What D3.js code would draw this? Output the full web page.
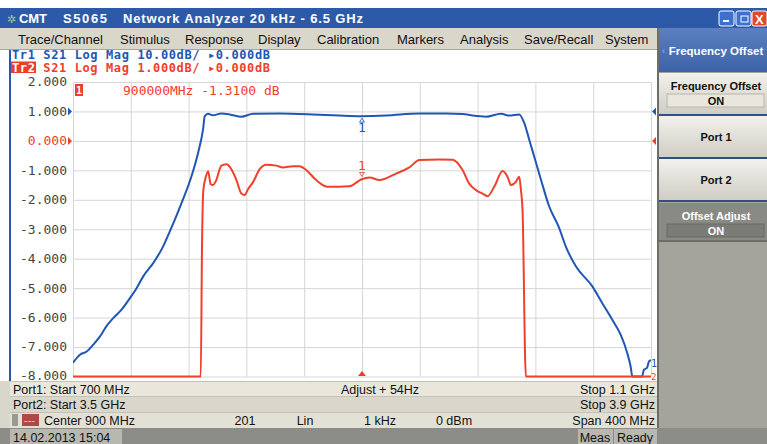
<!DOCTYPE html>
<html>
<head>
<meta charset="utf-8">
<script src="https://cdn.jsdelivr.net/npm/d3@7/dist/d3.min.js"></script>
<style>
  body { margin: 0; background: #fff; }
  svg { display: block; }
  .ui { font-family: "Liberation Sans", "DejaVu Sans", sans-serif; }
  .mono { font-family: "DejaVu Sans Mono", monospace; }
</style>
</head>
<body>
<svg id="vis" width="767" height="444"></svg>
<script>
// stimulus: 700 MHz .. 1.1 GHz, 40 MHz / div
var freqStart = 700, freqStop = 1100, freqStep = 40;
var tr2Ticks = [2, 1, 0, -1, -2, -3, -4, -5, -6, -7, -8];

// Tr1 S21 (10 dB/div, ref 0 dB at the 1.000 line)
var tr1Freq = [700, 704.8, 709.5, 714, 718.7, 723.3, 727.8, 733.6, 739.4, 744, 748.6, 755.5, 762.4, 767, 770.5,
  775.1, 782, 786.6, 790, 791.2, 793.5, 796.9, 802.7, 808.5, 816.5, 824.6, 843, 865.8, 884.4, 899.4, 916.7,
  939.7, 958.1, 969.6, 976.5, 985.8, 996.2, 1001.9, 1008.8, 1012.2, 1015.7, 1019.1, 1023.8, 1029.5, 1036.4,
  1041, 1048, 1059.4, 1066.3, 1073.2, 1079, 1083.6, 1085.9, 1087.1, 1091.7, 1093.8, 1095.1, 1097.2, 1098.6, 1100];
var tr1Db = [-85.3, -82.6, -81.5, -79.2, -76.4, -72.8, -70.2, -67.3, -63.4, -60, -56, -51.5, -45.8, -40.7, -36.7,
  -31.1, -22, -14, -6.1, -1.6, -0.8, -1.3, -0.7, -1.0, -1.8, -0.8, -0.7, -1.0, -1.4, -1.6, -1.4,
  -0.7, -0.7, -0.85, -1.4, -1.8, -0.8, -1.4, -1.0, -3.8, -9.5, -15.2, -23.1, -32.2, -39.5,
  -45.8, -52.6, -59.4, -65.1, -70.7, -75.8, -82.1, -86.6, -90, -92, -90.5, -87.7, -87.1, -84.9, -84.5];

// Tr2 S21 (1 dB/div, ref 0 dB at the 0.000 line)
var tr2Freq = [700, 788.4, 789.3, 790.2, 791.9, 793.5, 795.3, 796.9, 798.8, 802.7, 806.2, 809.6, 813.1, 816.5,
  818.8, 821.1, 824.6, 829.2, 833.8, 840.7, 845.3, 852.2, 856.8, 861.4, 868.3, 876.4, 891.4, 899.4, 905.2,
  912.1, 923.6, 932.8, 939.7, 953.5, 962.7, 969.6, 974.2, 978.9, 983.4, 986.9, 991.5, 997.3, 1000.7,
  1003.1, 1006.5, 1008.8, 1010, 1011.1, 1013.4, 1100];
var tr2Db = [-9.5, -9.5, -3.5, -1.67, -1.23, -1.03, -1.47, -1.5, -1.37, -0.84, -0.79, -0.96, -1.33, -1.79,
  -1.84, -1.64, -1.4, -0.96, -0.81, -0.84, -0.9, -0.86, -0.86, -0.99, -1.33, -1.56, -1.54, -1.31, -1.24,
  -1.33, -1.11, -0.9, -0.65, -0.63, -0.64, -0.99, -1.45, -1.67, -1.79, -1.88, -1.56, -1.02, -1.22,
  -1.5, -1.39, -1.22, -1.67, -2.35, -9.5, -9.5];

var markerFreq = 900;
var menuItems = ["Trace/Channel", "Stimulus", "Response", "Display", "Calibration", "Markers", "Analysis", "Save/Recall", "System"];
var menuX = [18, 120, 185, 258, 317, 397, 460, 524, 605];

var svg = d3.select("#vis");
var defs = svg.append("defs");

// ---------- window chrome ----------
svg.append("rect").attr("x", 0).attr("y", 8).attr("width", 767).attr("height", 20).attr("fill", "#2d5aa8");
svg.append("text").attr("class", "ui").attr("x", 7).attr("y", 23).attr("fill", "#9fd08a")
  .style("font-size", "11px").text("✲");
var title = svg.append("g").attr("class", "ui").attr("fill", "#fff")
  .style("font-size", "13px").style("font-weight", "bold");
title.append("text").attr("x", 19).attr("y", 23).attr("textLength", 28).attr("lengthAdjust", "spacing").text("CMT");
title.append("text").attr("x", 63).attr("y", 23).attr("textLength", 44).attr("lengthAdjust", "spacing").text("S5065");
title.append("text").attr("x", 123).attr("y", 23).attr("textLength", 240).attr("lengthAdjust", "spacing")
  .text("Network Analyzer 20 kHz - 6.5 GHz");
[[719, "#3b6fd0"], [736, "#3b6fd0"], [752, "#e04a2a"]].forEach(function(b){
  svg.append("rect").attr("x", b[0]).attr("y", 11).attr("width", 15).attr("height", 15).attr("rx", 2)
    .attr("fill", b[1]).attr("stroke", "#fff").attr("stroke-width", 1);
});
svg.append("rect").attr("x", 723).attr("y", 20).attr("width", 6).attr("height", 2).attr("fill", "#fff");
svg.append("rect").attr("x", 741).attr("y", 16).attr("width", 7).attr("height", 6).attr("fill", "none").attr("stroke", "#fff");
svg.append("text").attr("class", "ui").attr("x", 755).attr("y", 24).attr("fill", "#fff")
  .style("font-size", "13px").style("font-weight", "bold").text("X");

// menu bar
svg.append("rect").attr("x", 0).attr("y", 28).attr("width", 657).attr("height", 22).attr("fill", "#d9d6ca");
svg.append("line").attr("x1", 0).attr("x2", 657).attr("y1", 49.5).attr("y2", 49.5).attr("stroke", "#a9a79c");
svg.selectAll(".menu").data(menuItems).enter().append("text")
  .attr("class", "ui").attr("x", function(d, i){ return menuX[i]; }).attr("y", 44)
  .attr("fill", "#111").style("font-size", "13px").text(function(d){ return d; });

// chart panel
svg.append("rect").attr("x", 10).attr("y", 50).attr("width", 647).attr("height", 331).attr("fill", "#fff");
svg.append("rect").attr("x", 9).attr("y", 50).attr("width", 2).attr("height", 331).attr("fill", "#2a56b0");

// ---------- plot ----------
var x = d3.scaleLinear().domain([freqStart, freqStop]).range([73, 651]);
var y2 = d3.scaleLinear().domain([-8, 2]).range([376.5, 82]).clamp(true);
var y1 = d3.scaleLinear().domain([-90, 10]).range([376.5, 82]).clamp(true);

var grid = svg.append("g");
grid.append("g").attr("transform", "translate(73,0)")
  .call(d3.axisLeft(y2).tickValues(tr2Ticks).tickSize(-578).tickFormat(function(d){ return d.toFixed(3); }))
  .call(function(g){
    g.select(".domain").remove();
    g.selectAll(".tick line").attr("stroke", "#d6d6d6");
    g.selectAll(".tick text").attr("class", "mono").attr("x", -6).attr("dy", "0.3em")
      .style("font-size", "13px").attr("fill", function(d){ return d === 0 ? "#e8402a" : "#444"; });
    // the bottom label sits a touch higher so it clears the status bar
    g.selectAll(".tick text").filter(function(d){ return d === -8; }).attr("dy", "0.2em");
  });
grid.append("g").attr("transform", "translate(0,82)")
  .call(d3.axisBottom(x).tickValues(d3.range(freqStart, freqStop + 1, freqStep)).tickSize(294.5).tickFormat(""))
  .call(function(g){
    g.select(".domain").remove();
    g.selectAll(".tick line").attr("stroke", "#d6d6d6");
  });

// reference arrows
function tri(px, py, dir, col){
  var p = dir === "r" ? [[px, py - 4], [px + 4, py], [px, py + 4]]
    : dir === "l" ? [[px, py - 4], [px - 4, py], [px, py + 4]]
    : [[px - 4, py], [px, py - 5], [px + 4, py]];
  svg.append("polygon").attr("points", p.map(function(q){ return q.join(","); }).join(" ")).attr("fill", col);
}
tri(68, y2(1), "r", "#2a56b0");
tri(68, y2(0), "r", "#e8402a");
tri(656, y2(1), "l", "#2a56b0");
tri(656, y2(0), "l", "#e8402a");
tri(x(markerFreq), 376, "u", "#e8402a");

defs.append("clipPath").attr("id", "plotclip")
  .append("rect").attr("x", 73).attr("y", 80).attr("width", 579).attr("height", 299);

var line1 = d3.line().x(function(d){ return x(d[0]); }).y(function(d){ return y1(d[1]); }).curve(d3.curveMonotoneX);
var line2 = d3.line().x(function(d){ return x(d[0]); }).y(function(d){ return y2(d[1]); }).curve(d3.curveMonotoneX);

var plot = svg.append("g").attr("clip-path", "url(#plotclip)");
plot.append("path").datum(d3.zip(tr1Freq, tr1Db)).attr("d", line1)
  .attr("fill", "none").attr("stroke", "#2056b4").attr("stroke-width", 2);
plot.append("path").datum(d3.zip(tr2Freq, tr2Db)).attr("d", line2)
  .attr("fill", "none").attr("stroke", "#f0402a").attr("stroke-width", 2);

// markers at 900 MHz
var m1 = y1(-1.6), m2 = y2(-1.31);
svg.append("polygon").attr("points", [[x(900) - 2.5, m1 + 6], [x(900), m1 + 2], [x(900) + 2.5, m1 + 6]].join(" "))
  .attr("fill", "none").attr("stroke", "#2056b4").attr("stroke-width", 0.8);
svg.append("text").attr("class", "mono").attr("x", x(900)).attr("y", m1 + 16).attr("text-anchor", "middle")
  .attr("fill", "#2056b4").style("font-size", "13px").text("1");
svg.append("polygon").attr("points", [[x(900) - 2.5, m2 - 7], [x(900), m2 - 3], [x(900) + 2.5, m2 - 7]].join(" "))
  .attr("fill", "none").attr("stroke", "#f0402a").attr("stroke-width", 0.8);
svg.append("text").attr("class", "mono").attr("x", x(900)).attr("y", m2 - 9).attr("text-anchor", "middle")
  .attr("fill", "#f0402a").style("font-size", "13px").text("1");

// marker readout
svg.append("rect").attr("x", 75).attr("y", 84).attr("width", 8).attr("height", 12).attr("fill", "#e8402a");
svg.append("text").attr("class", "mono").attr("x", 76).attr("y", 94).attr("fill", "#fff")
  .style("font-size", "10px").style("font-weight", "bold").text("1");
svg.append("text").attr("class", "mono").attr("x", 123).attr("y", 95).attr("fill", "#f0402a")
  .style("font-size", "13px").text("900000MHz  -1.3100 dB");

// trace labels at the right edge
svg.append("text").attr("class", "mono").attr("x", 651).attr("y", 367).attr("fill", "#2056b4").style("font-size", "10px").text("1");
svg.append("text").attr("class", "mono").attr("x", 651).attr("y", 380).attr("fill", "#f0402a").style("font-size", "9px").text("2");

// trace header lines
svg.append("rect").attr("x", 11).attr("y", 61.5).attr("width", 25).attr("height", 11.5).attr("fill", "#e8402a");
var hdr = svg.append("g").attr("class", "mono").style("font-size", "12px").style("font-weight", "bold");
hdr.append("text").attr("x", 12).attr("y", 58.5).attr("fill", "#2056b4").attr("textLength", 258).attr("lengthAdjust", "spacing")
  .text("Tr1 S21 Log Mag 10.00dB/ ▸0.000dB");
hdr.append("text").attr("x", 12).attr("y", 71.5).attr("fill", "#f0402a").attr("textLength", 258).attr("lengthAdjust", "spacing")
  .html('<tspan fill="#fff">Tr2</tspan> S21 Log Mag 1.000dB/ ▸0.000dB');

// ---------- status rows ----------
var rows = [[381, 15, "#e9e7db"], [396, 16, "#d9d7cc"], [412, 16, "#e3e1d6"]];
rows.forEach(function(r){
  svg.append("rect").attr("x", 10).attr("y", r[0]).attr("width", 647).attr("height", r[1]).attr("fill", r[2]);
  svg.append("line").attr("x1", 10).attr("x2", 657).attr("y1", r[0] + 0.5).attr("y2", r[0] + 0.5).attr("stroke", "#c4c2b6");
});
svg.append("rect").attr("x", 0).attr("y", 381).attr("width", 10).attr("height", 63).attr("fill", "#d9d7cc");
svg.append("rect").attr("x", 12).attr("y", 414).attr("width", 6).attr("height", 12).attr("fill", "#9a9a94");
svg.append("rect").attr("x", 22).attr("y", 414).attr("width", 17).attr("height", 12).attr("fill", "#b04848");
svg.append("text").attr("class", "ui").attr("x", 24).attr("y", 424).attr("fill", "#f0c8c8").style("font-size", "11px").text("---");
svg.append("rect").attr("x", 0).attr("y", 428).attr("width", 767).attr("height", 16).attr("fill", "#8c8c88");
svg.append("rect").attr("x", 10).attr("y", 429).attr("width", 112).attr("height", 15).attr("fill", "#b8b8b0");
svg.append("rect").attr("x", 578).attr("y", 429).attr("width", 35).attr("height", 15).attr("fill", "#b8b8b0");
svg.append("rect").attr("x", 614).attr("y", 429).attr("width", 43).attr("height", 15).attr("fill", "#b8b8b0");

var st = svg.append("g").attr("class", "ui").style("font-size", "12.5px").attr("fill", "#111");
st.append("text").attr("x", 13).attr("y", 394).text("Port1: Start 700 MHz");
st.append("text").attr("x", 380).attr("y", 394).attr("text-anchor", "middle").text("Adjust + 54Hz");
st.append("text").attr("x", 655).attr("y", 394).attr("text-anchor", "end").text("Stop 1.1 GHz");
st.append("text").attr("x", 13).attr("y", 409).text("Port2: Start 3.5 GHz");
st.append("text").attr("x", 655).attr("y", 409).attr("text-anchor", "end").text("Stop 3.9 GHz");
st.append("text").attr("x", 44).attr("y", 425).text("Center 900 MHz");
st.append("text").attr("x", 245).attr("y", 425).attr("text-anchor", "middle").text("201");
st.append("text").attr("x", 305).attr("y", 425).attr("text-anchor", "middle").text("Lin");
st.append("text").attr("x", 380).attr("y", 425).attr("text-anchor", "middle").text("1 kHz");
st.append("text").attr("x", 454).attr("y", 425).attr("text-anchor", "middle").text("0 dBm");
st.append("text").attr("x", 655).attr("y", 425).attr("text-anchor", "end").text("Span 400 MHz");
st.append("text").attr("x", 13).attr("y", 441.5).text("14.02.2013 15:04");
st.append("text").attr("x", 595).attr("y", 441.5).attr("text-anchor", "middle").text("Meas");
st.append("text").attr("x", 635).attr("y", 441.5).attr("text-anchor", "middle").text("Ready");

// ---------- softkey panel ----------
svg.append("rect").attr("x", 657).attr("y", 28).attr("width", 110).attr("height", 400).attr("fill", "#a4a49c");
svg.append("rect").attr("x", 657).attr("y", 28).attr("width", 2).attr("height", 400).attr("fill", "#6e6e68");
var hdrGrad = defs.append("linearGradient").attr("id", "hg").attr("x1", 0).attr("y1", 0).attr("x2", 0).attr("y2", 1);
hdrGrad.append("stop").attr("offset", 0).attr("stop-color", "#5b7fc0");
hdrGrad.append("stop").attr("offset", 1).attr("stop-color", "#3d63a8");
svg.append("rect").attr("x", 659).attr("y", 28).attr("width", 108).attr("height", 44).attr("fill", "url(#hg)");
svg.append("text").attr("class", "ui").attr("x", 662).attr("y", 54).attr("fill", "#9fb4de").style("font-size", "9px").text("‹");
svg.append("text").attr("class", "ui").attr("x", 716).attr("y", 55).attr("text-anchor", "middle").attr("fill", "#fff")
  .style("font-size", "11.5px").style("font-weight", "bold").text("Frequency Offset");

var btnGrad = defs.append("linearGradient").attr("id", "bg").attr("x1", 0).attr("y1", 0).attr("x2", 0).attr("y2", 1);
btnGrad.append("stop").attr("offset", 0).attr("stop-color", "#f2f1ec");
btnGrad.append("stop").attr("offset", 1).attr("stop-color", "#cfcdc4");
var buttons = [[73, 41, "Frequency Offset", true, false], [116, 41, "Port 1", false, false], [159, 41, "Port 2", false, false], [203, 37, "Offset Adjust", true, true]];
buttons.forEach(function(b){
  svg.append("rect").attr("x", 659).attr("y", b[0]).attr("width", 108).attr("height", b[1])
    .attr("fill", b[4] ? "#8a8a84" : "url(#bg)");
  svg.append("line").attr("x1", 659).attr("x2", 767).attr("y1", b[0] + b[1] + 1).attr("y2", b[0] + b[1] + 1)
    .attr("stroke", b[4] ? "#6e6e68" : "#2f4f86").attr("stroke-width", 2);
  var ty = b[3] ? b[0] + 17 : b[0] + 25;
  svg.append("text").attr("class", "ui").attr("x", 716).attr("y", ty).attr("text-anchor", "middle")
    .attr("fill", b[4] ? "#fff" : "#111").style("font-size", "11px").style("font-weight", "bold").text(b[2]);
  if (b[3]) {
    svg.append("rect").attr("x", 667).attr("y", b[0] + 21).attr("width", 97).attr("height", 13)
      .attr("fill", b[4] ? "#7c7c76" : "#e9e7db").attr("stroke", b[4] ? "#6a6a64" : "#b8b6aa");
    svg.append("text").attr("class", "ui").attr("x", 716).attr("y", b[0] + 32).attr("text-anchor", "middle")
      .attr("fill", b[4] ? "#fff" : "#111").style("font-size", "11px").style("font-weight", "bold").text("ON");
  }
});
</script>
</body>
</html>
